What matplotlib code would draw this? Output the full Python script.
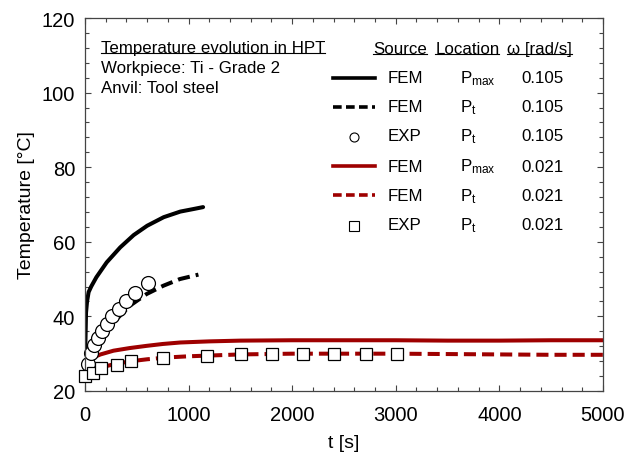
import numpy as np
import matplotlib
matplotlib.use('Agg')
import matplotlib.pyplot as plt
from matplotlib.ticker import MultipleLocator

plt.rcParams['font.family'] = ['Liberation Sans', 'DejaVu Sans']
plt.rcParams['mathtext.fontset'] = 'custom'
plt.rcParams['mathtext.rm'] = 'Liberation Sans'
plt.rcParams['mathtext.it'] = 'Liberation Sans:italic'

RED = '#9e0000'

# FEM, P_max, omega = 0.105
t_fem_max_fast = [0, 5, 10, 20, 35, 60, 110, 210, 340, 470, 600, 760, 920, 1050, 1140]
T_fem_max_fast = [27.5, 34, 41, 44, 46.5, 48, 50.5, 54.5, 58.5, 61.8, 64.3, 66.6, 68.1, 68.8, 69.3]

# FEM, P_t, omega = 0.105
t_fem_t_fast = [20, 60, 145, 275, 435, 595, 755, 915, 1095]
T_fem_t_fast = [27.5, 29.5, 33, 38.4, 42.9, 46, 48.2, 50, 51.2]

# EXP, P_t, omega = 0.105
t_exp_fast = [25, 55, 90, 125, 160, 210, 265, 330, 395, 480, 605]
T_exp_fast = [27.2, 30.2, 32.2, 34.1, 36, 38, 40, 42, 44, 46.2, 49]

# FEM, P_max, omega = 0.021
t_fem_max_slow = [0, 40, 80, 150, 275, 430, 595, 750, 920, 1200, 1500, 2000, 2500, 3000, 3500, 4000, 4500, 5000]
T_fem_max_slow = [27.7, 28.5, 29, 29.8, 30.8, 31.5, 32.1, 32.6, 33, 33.3, 33.5, 33.6, 33.6, 33.6, 33.5, 33.5, 33.6, 33.6]

# FEM, P_t, omega = 0.021
t_fem_t_slow = [0, 50, 150, 300, 450, 600, 800, 1000, 1200, 1500, 2000, 2500, 3000, 3500, 4000, 4500, 5000]
T_fem_t_slow = [25, 25.6, 26.3, 27.3, 28, 28.5, 29, 29.3, 29.5, 29.8, 30, 30, 30, 29.9, 29.8, 29.7, 29.7]

# EXP, P_t, omega = 0.021
t_exp_slow = [0, 78, 157, 307, 448, 755, 1180, 1505, 1808, 2102, 2405, 2708, 3007]
T_exp_slow = [23.9, 24.8, 26.1, 27, 28, 28.9, 29.5, 29.9, 30, 30, 30, 30, 30]

legend_source = ['FEM', 'FEM', 'EXP', 'FEM', 'FEM', 'EXP']
legend_loc = [r'P$_{\mathrm{max}}$', r'P$_{\mathrm{t}}$', r'P$_{\mathrm{t}}$',
              r'P$_{\mathrm{max}}$', r'P$_{\mathrm{t}}$', r'P$_{\mathrm{t}}$']
legend_omega = ['0.105', '0.105', '0.105', '0.021', '0.021', '0.021']

fig = plt.figure(figsize=(6.38, 4.56), dpi=100)
ax = fig.add_axes([0.1332, 0.1404, 0.8119, 0.8179])

lw = 2.9
ax.plot(t_fem_max_fast, T_fem_max_fast, color='black', lw=lw, solid_capstyle='round')
ax.plot(t_fem_t_fast, T_fem_t_fast, color='black', lw=lw, ls=(0, (3.0, 1.5)))
ax.plot(t_fem_max_slow, T_fem_max_slow, color=RED, lw=lw)
ax.plot(t_fem_t_slow, T_fem_t_slow, color=RED, lw=lw, ls=(0, (3.0, 1.5)))
ax.plot(t_exp_fast, T_exp_fast, 'o', ms=10, mfc='white', mec='black', mew=0.9, clip_on=False)
ax.plot(t_exp_slow, T_exp_slow, 's', ms=8.8, mfc='white', mec='black', mew=0.9, clip_on=False, zorder=3)

ax.set_xlim(0, 5000)
ax.set_ylim(20, 120)
ax.xaxis.set_major_locator(MultipleLocator(1000))
ax.xaxis.set_minor_locator(MultipleLocator(200))
ax.yaxis.set_major_locator(MultipleLocator(20))
ax.yaxis.set_minor_locator(MultipleLocator(4))
ax.tick_params(which='both', direction='in', top=True, right=True, color='#444444')
ax.tick_params(which='major', length=4, width=0.8, labelsize=14.5)
ax.tick_params(which='minor', length=3, width=0.8)
ax.tick_params(axis='x', pad=10)
ax.tick_params(axis='y', pad=7)
for s in ax.spines.values():
    s.set_color('#444444')
    s.set_linewidth(0.9)

ax.set_xlabel('t [s]', fontsize=14, labelpad=7)
ax.set_ylabel('Temperature [°C]', fontsize=14, labelpad=5)

fs = 12.2
underlined = []
underlined.append(ax.text(0.031, 0.922, 'Temperature evolution in HPT', transform=ax.transAxes,
                          fontsize=fs, va='center'))
ax.text(0.031, 0.866, 'Workpiece: Ti - Grade 2', transform=ax.transAxes, fontsize=fs, va='center')
ax.text(0.031, 0.815, 'Anvil: Tool steel', transform=ax.transAxes, fontsize=fs, va='center')

underlined.append(ax.text(0.556, 0.919, 'Source', transform=ax.transAxes, fontsize=fs, va='center'))
underlined.append(ax.text(0.676, 0.919, 'Location', transform=ax.transAxes, fontsize=fs, va='center'))
underlined.append(ax.text(0.815, 0.919, 'ω [rad/s]', transform=ax.transAxes, fontsize=fs, va='center'))

row_y = [0.840, 0.762, 0.684, 0.603, 0.525, 0.446]
styles = [('line', 'black', '-'), ('line', 'black', (0, (2.4, 1.2))), ('mk', 'o', None),
          ('line', RED, '-'), ('line', RED, (0, (2.4, 1.2))), ('mk', 's', None)]
for y, st, src, loc, om in zip(row_y, styles, legend_source, legend_loc, legend_omega):
    if st[0] == 'line':
        ax.plot([0.479, 0.560], [y, y], transform=ax.transAxes, color=st[1], ls=st[2],
                lw=2.6, clip_on=False)
    else:
        ax.plot([0.519], [y - 0.004], st[1], transform=ax.transAxes, ms=6.5, mfc='white',
                mec='black', mew=0.8, clip_on=False)
    ax.text(0.585, y, src, transform=ax.transAxes, fontsize=fs, va='center')
    ax.text(0.724, y, loc, transform=ax.transAxes, fontsize=fs, va='center')
    ax.text(0.925, y, om, transform=ax.transAxes, fontsize=fs, va='center', ha='right')

fig.canvas.draw()
r = fig.canvas.get_renderer()
inv = ax.transAxes.inverted()
for t in underlined:
    bb = t.get_window_extent(renderer=r)
    (x0, y0), (x1, y1) = inv.transform([[bb.x0, bb.y0], [bb.x1, bb.y1]])
    ax.plot([x0, x1], [y0 + 0.004, y0 + 0.004], transform=ax.transAxes, color='black',
            lw=0.8, clip_on=False)

fig.savefig('out.png', dpi=100)
